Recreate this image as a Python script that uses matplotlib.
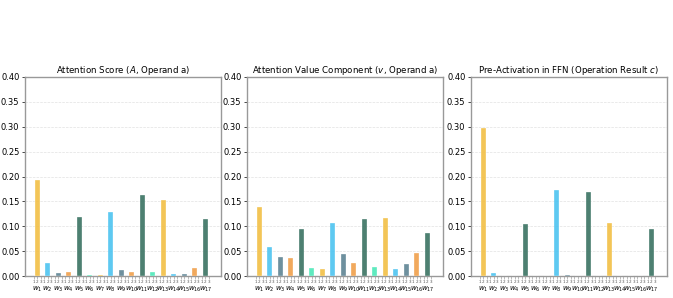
import numpy as np
import matplotlib
matplotlib.use("Agg")
import matplotlib.pyplot as plt

words = [f"$w_{{{i}}}$" for i in range(1, 18)]
sub_labels = ["1", "2", "3"]

score_a = [0.192, 0.027, 0.007, 0.008, 0.118, 0.002, 0.002, 0.129, 0.013,
           0.008, 0.163, 0.009, 0.153, 0.004, 0.004, 0.017, 0.114]
value_v = [0.138, 0.059, 0.038, 0.036, 0.095, 0.017, 0.015, 0.106, 0.045,
           0.027, 0.114, 0.018, 0.117, 0.015, 0.025, 0.046, 0.087]
preact_c = [0.297, 0.006, 0.0, 0.0, 0.104, 0.0, 0.0, 0.173, 0.002,
            0.0, 0.168, 0.0, 0.106, 0.0, 0.0, 0.0, 0.094]

titles = ["Attention Score ($A$, Operand a)",
          "Attention Value Component ($v$, Operand a)",
          "Pre-Activation in FFN (Operation Result $c$)"]

palette = ["#f2bf45", "#4cc3f0", "#5e8494", "#f0a04b", "#3a7262", "#4de8b8"]

fig = plt.figure(figsize=(6.73, 2.98), dpi=100)
lefts = [25, 247, 471]
x = np.arange(len(words))
colors = [palette[i % len(palette)] for i in range(len(words))]

for k, (vals, title) in enumerate(zip([score_a, value_v, preact_c], titles)):
    ax = fig.add_axes([lefts[k] / 673, (298 - 276) / 298, 196 / 673, 199 / 298])
    ax.bar(x, vals, width=0.48, color=colors, alpha=0.9,
           edgecolor="#ffffff", linewidth=0.25, zorder=3)
    ax.set_ylim(0, 0.40)
    ax.set_xlim(-1.15, len(words) - 1 + 1.5)
    ticks = np.arange(0, 0.401, 0.05)
    ax.set_yticks(ticks)
    ax.set_yticklabels([f"{t:.2f}" for t in ticks], fontsize=6)
    ax.yaxis.grid(True, linestyle="--", color="#e2e2e2", linewidth=0.5, zorder=0)
    ax.set_axisbelow(True)
    ax.set_title(title, fontsize=6.2, pad=3)

    ax.xaxis.remove_overlapping_locs = False
    ax.set_xticks(x)
    ax.set_xticklabels(words, fontsize=5)
    ax.tick_params(axis="x", which="major", length=0, pad=6.5)
    minor = np.concatenate([x - 0.33, x + 0.0, x + 0.33])
    minor_lab = [sub_labels[0]] * len(x) + [sub_labels[1]] * len(x) + [sub_labels[2]] * len(x)
    ax.set_xticks(minor, minor=True)
    ax.set_xticklabels(minor_lab, minor=True, fontsize=3, color="#555555")
    ax.tick_params(axis="x", which="minor", length=2, width=0.4, pad=1.2, color="#888888")
    ax.tick_params(axis="y", length=2, width=0.5, pad=2)

    for s in ax.spines.values():
        s.set_color("#999999")
        s.set_linewidth(1.0)

fig.savefig("out.png", dpi=100)
